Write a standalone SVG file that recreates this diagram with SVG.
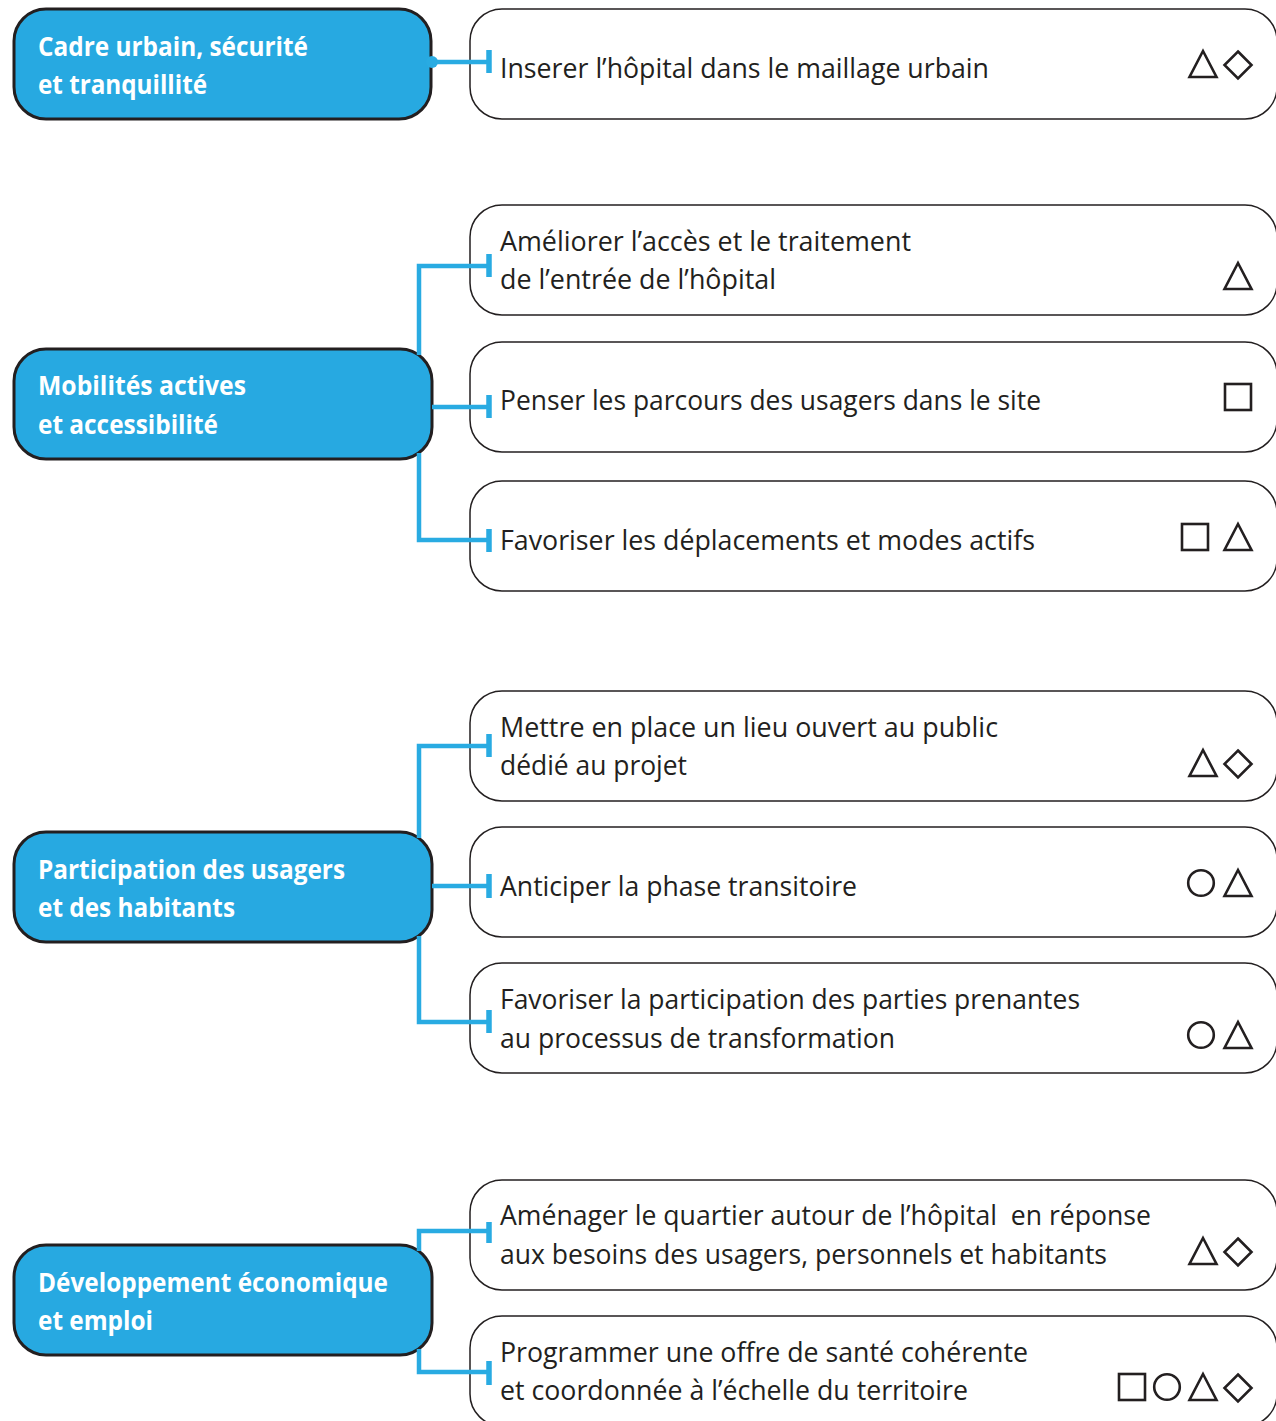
<svg xmlns="http://www.w3.org/2000/svg" width="1276" height="1421" viewBox="0 0 1276 1421">
<style>
.box{fill:#fff;stroke:#231f20;stroke-width:1.5}
.cat{fill:#27a9e1;stroke:#231f20;stroke-width:3}
.ct{font-family:"Open Sans","Liberation Sans",sans-serif;font-weight:700;font-size:27px;fill:#fff}
.bt{font-family:"Open Sans","Noto Sans","Liberation Sans",sans-serif;font-size:27px;fill:#231f20}
.sym{fill:none;stroke:#231f20;stroke-width:2.6;stroke-linejoin:miter}
.cn{fill:none;stroke:#29abe2;stroke-width:4.5}
.tb{fill:none;stroke:#29abe2;stroke-width:5.5}
</style>
<defs>
<path id="tri" class="sym" d="M0,-13 L13.5,13 L-13.5,13 Z"/>
<path id="dia" class="sym" d="M0,-13.5 L13.5,0 L0,13.5 L-13.5,0 Z"/>
<rect id="sq" class="sym" x="-13" y="-13" width="26" height="26"/>
<circle id="ci" class="sym" r="12.8"/>
</defs>

<g id="box1">
<rect class="box" x="470" y="9" width="807" height="110" rx="32"/>
<text class="bt" x="500" y="78" textLength="489" lengthAdjust="spacingAndGlyphs">Inserer l’hôpital dans le maillage urbain</text>
<use href="#tri" x="1203" y="64"/><use href="#dia" x="1238" y="65"/>
</g>
<g id="box2">
<rect class="box" x="470" y="205" width="807" height="110" rx="32"/>
<text class="bt" x="500" y="251" textLength="411" lengthAdjust="spacingAndGlyphs">Améliorer l’accès et le traitement</text>
<text class="bt" x="500" y="289" textLength="276" lengthAdjust="spacingAndGlyphs">de l’entrée de l’hôpital</text>
<use href="#tri" x="1238" y="276"/>
</g>
<g id="box3">
<rect class="box" x="470" y="342" width="807" height="110" rx="32"/>
<text class="bt" x="500" y="410" textLength="541" lengthAdjust="spacingAndGlyphs">Penser les parcours des usagers dans le site</text>
<use href="#sq" x="1238" y="397"/>
</g>
<g id="box4">
<rect class="box" x="470" y="481" width="807" height="110" rx="32"/>
<text class="bt" x="500" y="550" textLength="535" lengthAdjust="spacingAndGlyphs">Favoriser les déplacements et modes actifs</text>
<use href="#sq" x="1195" y="537"/><use href="#tri" x="1238" y="537"/>
</g>
<g id="box5">
<rect class="box" x="470" y="691" width="807" height="110" rx="32"/>
<text class="bt" x="500" y="737" textLength="498" lengthAdjust="spacingAndGlyphs">Mettre en place un lieu ouvert au public</text>
<text class="bt" x="500" y="775" textLength="187" lengthAdjust="spacingAndGlyphs">dédié au projet</text>
<use href="#tri" x="1203" y="763"/><use href="#dia" x="1238" y="764"/>
</g>
<g id="box6">
<rect class="box" x="470" y="827" width="807" height="110" rx="32"/>
<text class="bt" x="500" y="896" textLength="357" lengthAdjust="spacingAndGlyphs">Anticiper la phase transitoire</text>
<use href="#ci" x="1201" y="883"/><use href="#tri" x="1238" y="883"/>
</g>
<g id="box7">
<rect class="box" x="470" y="963" width="807" height="110" rx="32"/>
<text class="bt" x="500" y="1009" textLength="580" lengthAdjust="spacingAndGlyphs">Favoriser la participation des parties prenantes</text>
<text class="bt" x="500" y="1048" textLength="395" lengthAdjust="spacingAndGlyphs">au processus de transformation</text>
<use href="#ci" x="1201" y="1035"/><use href="#tri" x="1238" y="1035"/>
</g>
<g id="box8">
<rect class="box" x="470" y="1180" width="807" height="110" rx="32"/>
<text class="bt" x="500" y="1225" textLength="651" lengthAdjust="spacingAndGlyphs" xml:space="preserve">Aménager le quartier autour de l’hôpital  en réponse</text>
<text class="bt" x="500" y="1264" textLength="607" lengthAdjust="spacingAndGlyphs">aux besoins des usagers, personnels et habitants</text>
<use href="#tri" x="1203" y="1251"/><use href="#dia" x="1238" y="1252"/>
</g>
<g id="box9">
<rect class="box" x="470" y="1316" width="807" height="110" rx="32"/>
<text class="bt" x="500" y="1362" textLength="528" lengthAdjust="spacingAndGlyphs">Programmer une offre de santé cohérente</text>
<text class="bt" x="500" y="1400" textLength="468" lengthAdjust="spacingAndGlyphs">et coordonnée à l’échelle du territoire</text>
<use href="#sq" x="1132" y="1387"/><use href="#ci" x="1167" y="1387"/><use href="#tri" x="1203" y="1387"/><use href="#dia" x="1238" y="1388"/>
</g>

<g id="cat1">
<rect class="cat" x="14" y="9" width="417" height="110" rx="32"/>
<text class="ct" x="38" y="56" textLength="270" lengthAdjust="spacingAndGlyphs">Cadre urbain, sécurité</text>
<text class="ct" x="38" y="94" textLength="169" lengthAdjust="spacingAndGlyphs">et tranquillité</text>
</g>
<g id="cat2">
<rect class="cat" x="14" y="349" width="418" height="110" rx="32"/>
<text class="ct" x="38" y="395" textLength="208" lengthAdjust="spacingAndGlyphs">Mobilités actives</text>
<text class="ct" x="38" y="434" textLength="180" lengthAdjust="spacingAndGlyphs">et accessibilité</text>
</g>
<g id="cat3">
<rect class="cat" x="14" y="832" width="418" height="110" rx="32"/>
<text class="ct" x="38" y="879" textLength="307" lengthAdjust="spacingAndGlyphs">Participation des usagers</text>
<text class="ct" x="38" y="917" textLength="197" lengthAdjust="spacingAndGlyphs">et des habitants</text>
</g>
<g id="cat4">
<rect class="cat" x="14" y="1245" width="418" height="110" rx="32"/>
<text class="ct" x="38" y="1292" textLength="350" lengthAdjust="spacingAndGlyphs">Développement économique</text>
<text class="ct" x="38" y="1330" textLength="115" lengthAdjust="spacingAndGlyphs">et emploi</text>
</g>

<g id="connectors">
<circle cx="432" cy="62" r="6" fill="#29abe2"/>
<path class="cn" d="M432,62 H489"/>
<path class="tb" d="M489,50 V73"/>
<path class="cn" d="M489,266 H419 V355 M419,453 V540 H489 M432,407 H489"/>
<path class="tb" d="M489,254 V277 M489,395 V418 M489,529 V552"/>
<path class="cn" d="M489,746 H419 V838 M419,936 V1022 H489 M432,886 H489"/>
<path class="tb" d="M489,734 V757 M489,874 V898 M489,1010 V1033"/>
<path class="cn" d="M489,1231 H419 V1251 M419,1349 V1372 H489"/>
<path class="tb" d="M489,1222 V1243 M489,1361 V1385"/>
</g>
</svg>
